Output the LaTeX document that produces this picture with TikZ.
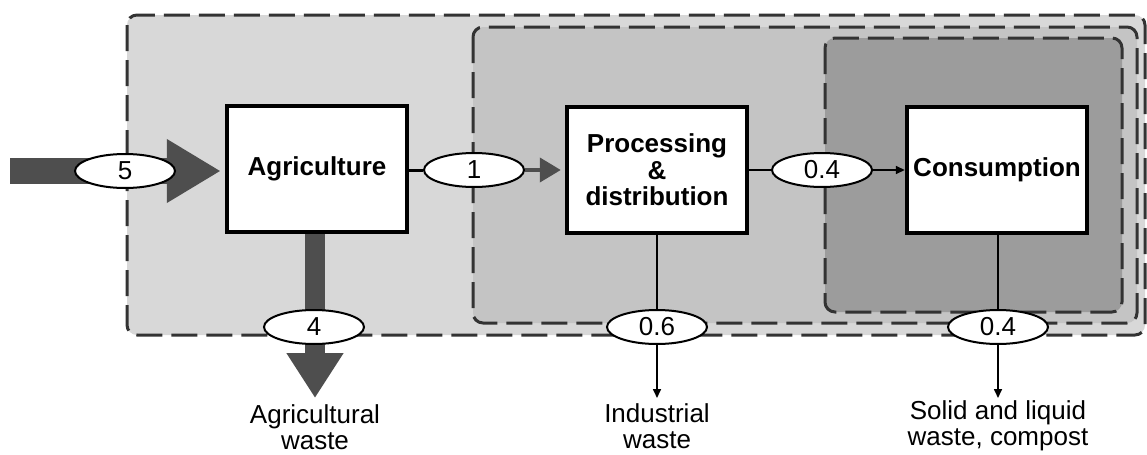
\documentclass[tikz,border=0pt]{standalone}
\usepackage{fontspec}
\setmainfont{Liberation Sans}
\usetikzlibrary{arrows.meta,backgrounds,shapes.geometric}
\definecolor{outerfill}{HTML}{D8D8D8}
\definecolor{midfill}{HTML}{C4C4C4}
\definecolor{innerfill}{HTML}{9C9C9C}
\definecolor{dashcol}{HTML}{333333}
\definecolor{bigarrow}{HTML}{4E4E4E}
\begin{document}
\begin{tikzpicture}[x=0.5pt,y=-0.5pt,
  font=\fontsize{13}{13.5}\selectfont,
  region/.style={draw=dashcol, line width=1.5pt, dash pattern=on 13pt off 4.5pt, rounded corners=5pt},
  stage/.style={draw=black, line width=2.2pt, fill=white, minimum width=90pt, minimum height=63pt,
    inner sep=0pt, align=center, font=\fontsize{13}{13.3}\selectfont\bfseries},
  flow/.style={ellipse, draw=black, line width=1pt, fill=white, minimum width=50pt,
    minimum height=17pt, inner sep=0pt},
  wastelabel/.style={align=center, inner sep=0pt, font=\fontsize{13}{13}\selectfont},
  bigflow/.style={draw=bigarrow, line width=#1},
  thin/.style={draw=black, line width=0.8pt},
  thinarrow/.style={thin, -{Triangle[length=4.5pt,width=4pt]}},
]
\useasboundingbox (0,0) rectangle (1147,455);

% stages
\node[stage] (agri) at (317,169) {Agriculture};
\node[stage] (proc) at (657,170) {Processing\\\&\\distribution};
\node[stage] (cons) at (997,170) {Consumption};

% flow quantities
\node[flow] (e5) at (125,171) {5};
\node[flow] (e1) at (474,170) {1};
\node[flow] (e04) at (822,170) {0.4};
\node[flow] (e4) at (314,327) {4};
\node[flow] (e06) at (657,327) {0.6};
\node[flow] (e04b) at (998,327) {0.4};

% free ends
\coordinate (in) at (10,171);
\coordinate (aw) at (315,398);
\coordinate (iw) at (657,398);
\coordinate (sw) at (998,398);

% waste labels
\node[wastelabel] (aglab) at (315,427) {Agricultural\\waste};
\node[wastelabel] (indlab) at (657,426) {Industrial\\waste};
\node[wastelabel] (sollab) at (998,426) {Solid and liquid\\waste, compost};

\begin{scope}[on background layer]
  \fill[white] (0,0) rectangle (1147,455);
  \draw[region, fill=outerfill] (127,15) rectangle (1145,335);
  \draw[region, fill=midfill] (473,27) rectangle (1137,323);
  \draw[region, fill=innerfill] (825,38) rectangle (1122,312);
  % thick flows
  \draw[bigflow=13pt, -{Triangle[length=27pt,width=30pt]}, bigarrow, shorten >=2pt] (in) -- (agri.west |- in);
  \draw[bigflow=10pt, -{Triangle[length=22.5pt,width=27pt]}, bigarrow] (agri.south -| aw) -- (aw);
\end{scope}

% connectors
\draw[draw=black, line width=1.5pt] (agri.east |- e1) -- (e1.west);
\draw[draw=bigarrow, line width=2pt, -{Triangle[length=10.5pt,width=12pt]}, shorten >=2pt] (e1.east) -- (proc.west |- e1);
\draw[thin] (proc.east |- e04) -- (e04.west);
\draw[thinarrow] (e04.east) -- (cons.west |- e04);
\draw[thin] (proc.south) -- (e06.north);
\draw[thinarrow] (e06.south) -- (iw);
\draw[thin] (cons.south -| e04b) -- (e04b.north);
\draw[thinarrow] (e04b.south) -- (sw);
\end{tikzpicture}
\end{document}
